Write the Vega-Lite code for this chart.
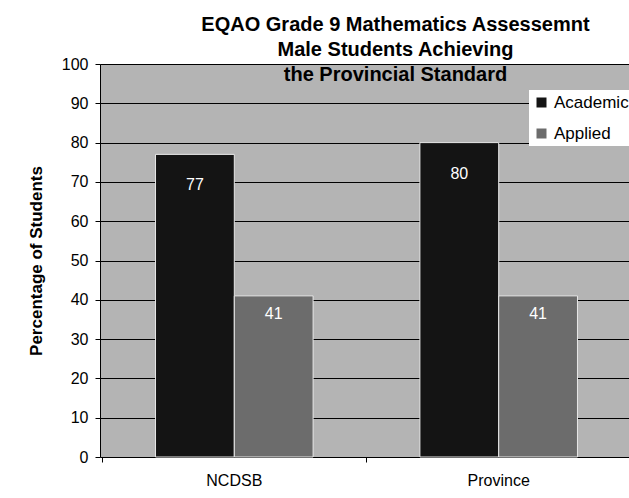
{
  "$schema": "https://vega.github.io/schema/vega-lite/v6.json",
  "width": 529,
  "height": 393,
  "autosize": "none",
  "padding": {"left": 100, "top": 64, "right": 0, "bottom": 41},
  "background": "white",
  "config": {"view": {"fill": "#b4b4b4", "stroke": null}, "font": "Liberation Sans"},
  "title": {
    "text": ["EQAO Grade 9 Mathematics Assessemnt", "Male Students Achieving", "the Provincial Standard"],
    "fontSize": 20,
    "fontWeight": "bold",
    "lineHeight": 25,
    "anchor": "middle",
    "dx": 31,
    "offset": -29,
    "color": "black"
  },
  "data": {
    "values": [
      {"group": "NCDSB", "series": "Academic", "value": 77},
      {"group": "NCDSB", "series": "Applied", "value": 41},
      {"group": "Province", "series": "Academic", "value": 80},
      {"group": "Province", "series": "Applied", "value": 41}
    ]
  },
  "encoding": {
    "x": {
      "field": "group",
      "type": "nominal",
      "sort": ["NCDSB", "Province"],
      "scale": {"range": [0, 533], "paddingInner": 0.404, "paddingOuter": 0.21},
      "axis": {
        "title": null,
        "labelAngle": 0,
        "labelFontSize": 16,
        "labelColor": "black",
        "labelPadding": 10,
        "domain": false,
        "ticks": true,
        "bandPosition": -0.339,
        "tickColor": "black",
        "tickSize": 5,
        "grid": false
      }
    },
    "xOffset": {"field": "series", "type": "nominal", "sort": ["Academic", "Applied"]},
    "y": {
      "field": "value",
      "type": "quantitative",
      "scale": {"domain": [0, 100], "nice": false},
      "axis": {
        "title": "Percentage of Students",
        "titleFontSize": 17,
        "titleFontWeight": "bold",
        "titleColor": "black",
        "titlePadding": 16,
        "values": [0, 10, 20, 30, 40, 50, 60, 70, 80, 90, 100],
        "labelFontSize": 16,
        "labelColor": "black",
        "labelPadding": 7,
        "domainColor": "black",
        "tickColor": "black",
        "tickSize": 5,
        "grid": true,
        "gridColor": "black",
        "gridOpacity": 1,
        "gridWidth": 1
      }
    }
  },
  "layer": [
    {
      "mark": {"type": "bar", "stroke": "#e8e8e8", "strokeWidth": 1},
      "encoding": {
        "color": {
          "field": "series",
          "type": "nominal",
          "scale": {"domain": ["Academic", "Applied"], "range": ["#141414", "#6c6c6c"]},
          "legend": {
            "title": null,
            "orient": "none",
            "legendX": 429,
            "legendY": 26,
            "fillColor": "white",
            "padding": 4,
            "labelFontSize": 17,
            "labelColor": "black",
            "labelOffset": 4,
            "symbolType": "square",
            "symbolSize": 100,
            "symbolStrokeWidth": 0,
            "rowPadding": 13
          }
        }
      }
    },
    {
      "transform": [{"filter": "datum.series === 'Academic'"}],
      "mark": {"type": "text", "color": "white", "fontSize": 16, "baseline": "middle", "dy": 31},
      "encoding": {"text": {"field": "value", "type": "quantitative"}}
    },
    {
      "transform": [{"filter": "datum.series === 'Applied'"}],
      "mark": {"type": "text", "color": "white", "fontSize": 16, "baseline": "middle", "dy": 18},
      "encoding": {"text": {"field": "value", "type": "quantitative"}}
    }
  ]
}
